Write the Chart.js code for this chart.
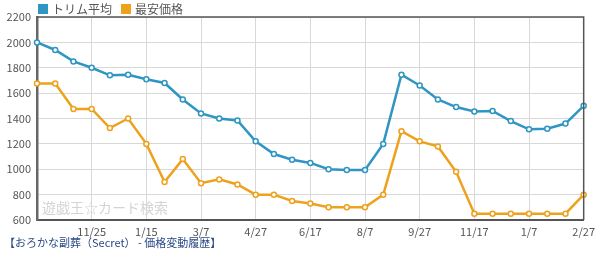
<!DOCTYPE html>
<html>
<head>
<meta charset="utf-8">
<script src="https://cdn.jsdelivr.net/npm/chart.js@4.4.1/dist/chart.umd.min.js"></script>
<style>
  html, body { margin: 0; padding: 0; background: #fff; }
  .wrap { position: relative; width: 600px; height: 253px; }
  .legend { position: absolute; left: 38px; top: 1px; font-family: "Noto Sans CJK JP", sans-serif; font-size: 12px; color: #555; line-height: 16px; display: flex; }
  .legend span { display: flex; align-items: center; margin-right: 9px; }
  .legend i { display: inline-block; width: 10px; height: 10px; margin-right: 4px; }
  .foot { position: absolute; left: 4px; top: 235px; font-family: "Noto Sans CJK JP", sans-serif; font-size: 11px; color: #2b4a86; line-height: 15px; }
</style>
</head>
<body>
<div class="wrap">
  <canvas id="c"></canvas>
  <div class="legend" id="lg"></div>
  <div class="foot">【おろかな副葬（Secret） - 価格変動履歴】</div>
</div>
<script>
// ============ DATA ============
const tickLabels = ['11/25','1/15','3/7','4/27','6/17','8/7','9/27','11/17','1/7','2/27'];
const trimAvg = [2000,1940,1850,1800,1740,1745,1710,1680,1550,1440,1400,1385,1220,1120,1075,1050,1000,995,995,1200,1745,1660,1550,1490,1455,1460,1380,1315,1320,1360,1500];
const minPrice = [1675,1675,1475,1475,1325,1400,1200,900,1080,890,920,880,800,800,750,730,700,700,700,800,1300,1220,1180,980,650,650,650,650,650,650,800];
const seriesNames = ['トリム平均','最安価格'];
const watermark = '遊戯王☆カード検索';

// one label every third point, starting at index 3
const labels = trimAvg.map((_, i) => (i > 0 && i % 3 === 0) ? tickLabels[i / 3 - 1] : '');

const BLUE = '#2f95c2', ORANGE = '#eea11c';
const font = { family: "'Noto Sans CJK JP', 'Noto Sans', sans-serif", size: 11 };

// ============ PLUGINS ============
const frame = {
  id: 'frame',
  beforeDatasetsDraw(chart) {
    const { ctx, chartArea: a } = chart;
    ctx.save();
    ctx.font = "14px 'Noto Sans CJK JP', sans-serif";
    ctx.fillStyle = '#d4d4d4';
    ctx.textBaseline = 'alphabetic';
    ctx.fillText(watermark, a.left + 5, a.bottom - 7);
    ctx.restore();
  },
  afterDraw(chart) {
    const { ctx, chartArea: a } = chart;
    ctx.save();
    ctx.strokeStyle = '#555';
    ctx.lineWidth = 1.5;
    ctx.beginPath();
    ctx.moveTo(a.left, a.top);
    ctx.lineTo(a.right, a.top);
    ctx.lineTo(a.right, a.bottom);
    ctx.stroke();
    ctx.restore();
  }
};

// ============ CHART ============
const chart = new Chart(document.getElementById('c'), {
  type: 'line',
  data: {
    labels: labels,
    datasets: [
      { label: seriesNames[0], data: trimAvg, borderColor: BLUE, backgroundColor: BLUE,
        borderWidth: 2.5, pointRadius: 2.5, pointBorderWidth: 1.5, pointBackgroundColor: '#fff',
        pointBorderColor: BLUE, tension: 0 },
      { label: seriesNames[1], data: minPrice, borderColor: ORANGE, backgroundColor: ORANGE,
        borderWidth: 2.5, pointRadius: 2.5, pointBorderWidth: 1.5, pointBackgroundColor: '#fff',
        pointBorderColor: ORANGE, tension: 0 }
    ]
  },
  options: {
    responsive: true,
    maintainAspectRatio: false,
    animation: false,
    layout: { padding: { left: 0, right: 8, top: 17, bottom: 0 } },
    plugins: { tooltip: { enabled: false }, legend: { display: false } },
    scales: {
      x: {
        offset: false,
        afterFit(s) { s.height = 33; },
        grid: {
          drawTicks: false,
          color: c => (c.index % 3 === 0 ? '#d8d8d8' : 'transparent')
        },
        border: { color: '#555', width: 2 },
        ticks: { autoSkip: false, maxRotation: 0, color: '#555', font: font, padding: 5 }
      },
      y: {
        min: 600, max: 2200,
        afterFit(s) { s.width = 37; },
        grid: { drawTicks: false, color: '#d8d8d8' },
        border: { color: '#666', width: 2.5 },
        ticks: { stepSize: 200, color: '#555', font: font, padding: 6, callback: v => String(v) }
      }
    }
  },
  plugins: [frame]
});

// legend
document.getElementById('lg').innerHTML = chart.data.datasets.map(d =>
  `<span><i style="background:${d.borderColor}"></i>${d.label}</span>`
).join('');
</script>
</body>
</html>
